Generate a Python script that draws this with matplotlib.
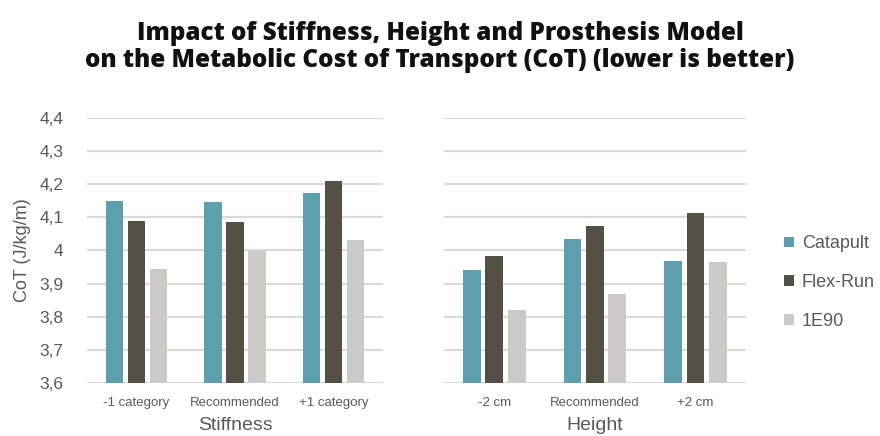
import numpy as np
import matplotlib
matplotlib.use("Agg")
import matplotlib.pyplot as plt

# Data
series = ["Catapult", "Flex-Run", "1E90"]
colors = ["#5E9FAD", "#555045", "#CBCAC6"]

stiff_labels = ["-1 category", "Recommended", "+1 category"]
stiff_catapult = [4.149, 4.146, 4.174]
stiff_flexrun = [4.089, 4.085, 4.209]
stiff_1e90 = [3.944, 3.998, 4.031]

height_labels = ["-2 cm", "Recommended", "+2 cm"]
height_catapult = [3.941, 4.034, 3.967]
height_flexrun = [3.983, 4.074, 4.114]
height_1e90 = [3.820, 3.869, 3.964]

yticks = [3.6, 3.7, 3.8, 3.9, 4.0, 4.1, 4.2, 4.3, 4.4]
ytick_labels = ["3,6", "3,7", "3,8", "3,9", "4", "4,1", "4,2", "4,3", "4,4"]

TEXT = "#595959"
GRID = "#D9D9D9"
plt.rcParams["font.family"] = ["Liberation Sans", "DejaVu Sans"]

fig = plt.figure(figsize=(8.8, 4.36), dpi=100)
ax1 = fig.add_axes([0.0989, 0.1216, 0.3364, 0.6078])
ax2 = fig.add_axes([0.5045, 0.1216, 0.3430, 0.6078])


def draw_panel(ax, labels, groups, xlabel, show_y):
    x = np.arange(len(labels))
    offset = 0.223
    width = 0.177
    for i, (vals, col, name) in enumerate(zip(groups, colors, series)):
        ax.bar(x + (i - 1) * offset, np.array(vals) - 3.6, width=width, bottom=3.6,
               color=col, label=name, zorder=3)
    ax.set_xlim(-0.5, len(labels) - 0.5)
    ax.set_ylim(3.6, 4.4)
    ax.set_yticks(yticks)
    ax.yaxis.grid(True, color=GRID, linewidth=1.5, zorder=0)
    ax.set_axisbelow(True)
    for s in ["top", "right", "left", "bottom"]:
        ax.spines[s].set_visible(False)
    ax.tick_params(axis="both", length=0)
    ax.set_xticks(x)
    ax.set_xticklabels(labels, fontsize=9.5, color=TEXT)
    ax.tick_params(axis="x", pad=10)
    ax.set_xlabel(xlabel, fontsize=14, color=TEXT, labelpad=6)
    if show_y:
        ax.set_yticklabels(ytick_labels, fontsize=12.5, color=TEXT)
        ax.tick_params(axis="y", pad=17)
        ax.set_ylabel("CoT (J/kg/m)", fontsize=13, color=TEXT, labelpad=6)
    else:
        ax.set_yticklabels([])


draw_panel(ax1, stiff_labels, [stiff_catapult, stiff_flexrun, stiff_1e90], "Stiffness", True)
draw_panel(ax2, height_labels, [height_catapult, height_flexrun, height_1e90], "Height", False)

handles, names = ax2.get_legend_handles_labels()
fig.legend(handles, names, loc="center left", bbox_to_anchor=(0.873, 0.352),
           frameon=False, fontsize=13, labelcolor=TEXT,
           handlelength=0.55, handleheight=0.55, handletextpad=0.4, labelspacing=1.2)

fig.text(0.5, 0.893, "Impact of Stiffness, Height and Prosthesis Model\n"
         "on the Metabolic Cost of Transport (CoT) (lower is better)",
         ha="center", va="center", fontsize=17.5, fontweight=800,
         family=["Open Sans", "Lato", "DejaVu Sans"], color="#111111", linespacing=1.12)

fig.savefig("out.png", dpi=100)
